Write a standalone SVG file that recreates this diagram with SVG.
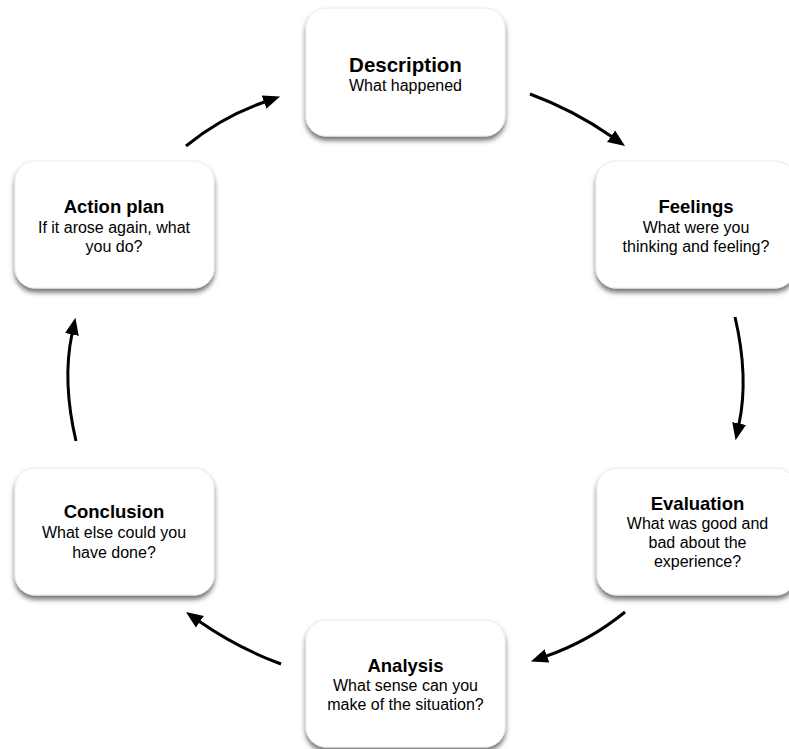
<svg xmlns="http://www.w3.org/2000/svg" width="789" height="749" viewBox="0 0 789 749">
<style>
.box{fill:#ffffff;stroke:#ececec;stroke-width:1;filter:url(#sh)}
.t{font-family:"Liberation Sans",Arial,Helvetica,sans-serif;font-weight:bold;font-size:18.5px;fill:#000;text-anchor:middle}
.s{font-family:"Liberation Sans",Arial,Helvetica,sans-serif;font-size:16px;fill:#000;text-anchor:middle}
.arr{fill:none;stroke:#000;stroke-width:3;marker-end:url(#ah)}
</style>
<defs>
<filter id="sh" x="-10%" y="-10%" width="120%" height="125%">
<feDropShadow dx="0" dy="4" stdDeviation="2.5" flood-color="#000" flood-opacity="0.55"/>
</filter>
<marker id="ah" markerUnits="userSpaceOnUse" viewBox="0 -8 18 16" markerWidth="18" markerHeight="16" refX="0.5" refY="0" orient="auto">
<path d="M0,-7 L17,0 L0,7 Z" fill="#000"/>
</marker>
</defs>
<rect width="789" height="749" fill="#ffffff"/>
<g id="connectors">
<path class="arr" d="M530,94 Q573.8,110.2 611.5,136.5"/>
<path class="arr" d="M735,317 Q749,377 739,424"/>
<path class="arr" d="M625,612 Q589.2,641.2 546.5,656"/>
<path class="arr" d="M281,664 Q237.2,647.8 199.5,621.5"/>
<path class="arr" d="M76,441 Q62,381 72,334"/>
<path class="arr" d="M186,146 Q221.8,116.8 264.5,102"/>
</g>
<g id="description">
<rect class="box" x="306" y="8" width="199" height="128" rx="20"/>
<text class="t" x="405.5" y="72" style="font-size:20.5px">Description</text>
<text class="s" x="405.5" y="91">What happened</text>
</g>
<g id="feelings">
<rect class="box" x="596" y="161" width="199" height="127" rx="20"/>
<text class="t" x="696" y="213">Feelings</text>
<text class="s" x="696" y="233">What were you</text>
<text class="s" x="696" y="252">thinking and feeling?</text>
</g>
<g id="evaluation">
<rect class="box" x="597" y="468" width="199" height="127" rx="20"/>
<text class="t" x="697.5" y="510">Evaluation</text>
<text class="s" x="697.5" y="529">What was good and</text>
<text class="s" x="697.5" y="548">bad about the</text>
<text class="s" x="697.5" y="567">experience?</text>
</g>
<g id="analysis">
<rect class="box" x="306" y="620" width="199" height="127" rx="20"/>
<text class="t" x="405.5" y="672">Analysis</text>
<text class="s" x="405.5" y="691">What sense can you</text>
<text class="s" x="405.5" y="710">make of the situation?</text>
</g>
<g id="conclusion">
<rect class="box" x="15" y="468" width="199" height="127" rx="20"/>
<text class="t" x="114" y="518">Conclusion</text>
<text class="s" x="114" y="538">What else could you</text>
<text class="s" x="114" y="558">have done?</text>
</g>
<g id="action-plan">
<rect class="box" x="15" y="161" width="199" height="127" rx="20"/>
<text class="t" x="114" y="213">Action plan</text>
<text class="s" x="114" y="233">If it arose again, what</text>
<text class="s" x="114" y="252">you do?</text>
</g>
</svg>
